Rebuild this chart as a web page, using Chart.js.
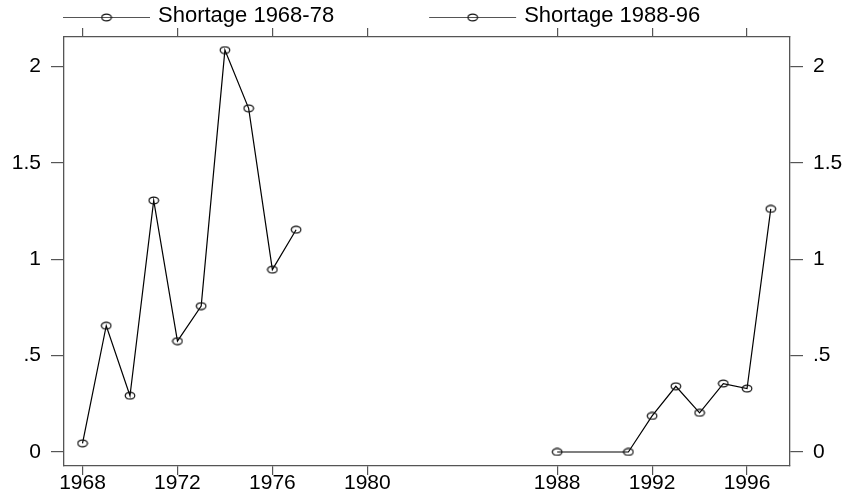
<!DOCTYPE html>
<html><head><meta charset="utf-8">
<script src="https://cdn.jsdelivr.net/npm/chart.js@4"></script>
<style>html,body{margin:0;padding:0;background:#fff}</style>
</head><body>
<canvas id="c" width="844" height="496"></canvas>
<script>
const seriesLabels = ['Shortage 1968-78', 'Shortage 1988-96'];
const years1 = [1968, 1969, 1970, 1971, 1972, 1973, 1974, 1975, 1976, 1977];
const shortage1 = [0.045, 0.655, 0.292, 1.305, 0.575, 0.757, 2.085, 1.783, 0.946, 1.153];
const years2 = [1988, 1991, 1992, 1993, 1994, 1995, 1996, 1997];
const shortage2 = [0, 0, 0.187, 0.341, 0.203, 0.355, 0.329, 1.261];
const xTicks = [1968, 1972, 1976, 1980, 1988, 1992, 1996];
const yTicks = [0, 0.5, 1, 1.5, 2];
const yTickLabels = ['0', '.5', '1', '1.5', '2'];

const FONT = 'Liberation Sans, Arial, sans-serif';
const AXIS = '#555';

function ellipseMarker() {
  const c = document.createElement('canvas');
  c.width = 12; c.height = 9;
  const g = c.getContext('2d');
  g.strokeStyle = '#111'; g.lineWidth = 1.2;
  g.beginPath(); g.ellipse(6, 4.5, 4.8, 3.4, 0, 0, Math.PI * 2); g.stroke();
  return c;
}
const marker = ellipseMarker();

const toPts = (xs, ys) => xs.map((x, i) => ({x: x, y: ys[i]}));

const legendPlugin = {
  id: 'stataLegend',
  afterDraw(chart) {
    const ctx = chart.ctx;
    ctx.save();
    ctx.font = '22px ' + FONT;
    ctx.textBaseline = 'middle';
    ctx.fillStyle = '#000';
    let x = chart.chartArea.left - 1;
    const y = 17;
    const lineW = 87;
    chart.data.datasets.forEach(ds => {
      ctx.strokeStyle = '#555'; ctx.lineWidth = 1;
      ctx.beginPath(); ctx.moveTo(x, y + 0.5); ctx.lineTo(x + lineW, y + 0.5); ctx.stroke();
      ctx.drawImage(marker, x + lineW / 2 - 6, y - 4);
      const tx = x + lineW + 8;
      ctx.fillText(ds.label, tx, y - 1);
      x = tx + ctx.measureText(ds.label).width + 95;
    });
    ctx.restore();
  }
};

const xCommon = {
  type: 'linear', min: 1967.22, max: 1997.81,
  afterBuildTicks: s => { s.ticks = xTicks.map(v => ({value: v})); },
  grid: {drawOnChartArea: false, tickLength: 9, color: AXIS, lineWidth: 1.2},
  border: {color: AXIS, width: 1.3}
};
const yCommon = {
  type: 'linear', min: -0.0727, max: 2.153,
  afterBuildTicks: s => { s.ticks = yTicks.map(v => ({value: v})); },
  grid: {drawOnChartArea: false, tickLength: 13, color: AXIS, lineWidth: 1.2},
  border: {color: AXIS, width: 1.3},
  ticks: {
    color: '#000', padding: 10, font: {family: FONT, size: 21},
    callback: v => yTickLabels[yTicks.indexOf(v)]
  }
};

new Chart(document.getElementById('c'), {
  type: 'line',
  data: {
    datasets: [
      {label: seriesLabels[0], data: toPts(years1, shortage1), xAxisID: 'x', yAxisID: 'y',
       borderColor: '#000', borderWidth: 1.2, tension: 0, pointStyle: marker, pointRadius: 5, fill: false},
      {label: seriesLabels[1], data: toPts(years2, shortage2), xAxisID: 'x', yAxisID: 'y',
       borderColor: '#000', borderWidth: 1.2, tension: 0, pointStyle: marker, pointRadius: 5, fill: false}
    ]
  },
  options: {
    responsive: false, animation: false, devicePixelRatio: 1,
    layout: {padding: 0},
    plugins: {legend: {display: false}, tooltip: {enabled: false}},
    scales: {
      x: Object.assign({}, xCommon, {
        position: 'bottom',
        ticks: {color: '#000', padding: -4, maxRotation: 0, autoSkip: false,
                font: {family: FONT, size: 21}, callback: v => String(v)},
        afterFit: s => { s.height = 30; }
      }),
      x2: Object.assign({}, xCommon, {
        position: 'top',
        ticks: {display: false},
        afterFit: s => { s.height = 37; }
      }),
      y: Object.assign({}, yCommon, {position: 'left', afterFit: s => { s.width = 64; }}),
      y2: Object.assign({}, yCommon, {position: 'right', afterFit: s => { s.width = 54; }})
    }
  },
  plugins: [legendPlugin]
});
</script>
</body></html>
